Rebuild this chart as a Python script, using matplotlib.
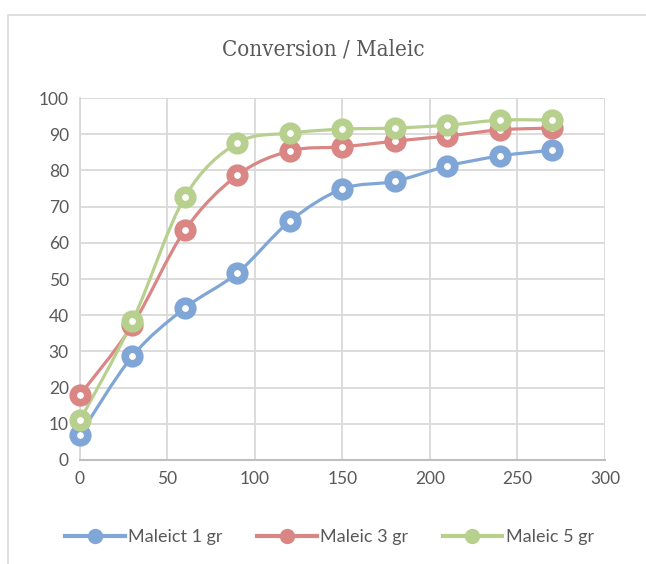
import numpy as np
import matplotlib.pyplot as plt
from matplotlib.path import Path
from matplotlib.patches import PathPatch, Rectangle
from matplotlib.lines import Line2D

# ==========================================
# DATA
# ==========================================
time_min = [0, 30, 60, 90, 120, 150, 180, 210, 240, 270]
maleic_1 = [7.0, 28.7, 42.0, 51.7, 66.0, 74.9, 77.0, 81.2, 84.0, 85.6]
maleic_3 = [18.0, 37.3, 63.5, 78.7, 85.4, 86.5, 88.1, 89.5, 91.2, 91.7]
maleic_5 = [11.0, 38.4, 72.7, 87.6, 90.3, 91.4, 91.7, 92.5, 93.9, 93.9]

labels = ['Maleict 1 gr', 'Maleic 3 gr', 'Maleic 5 gr']
colors = ['#7FA6D6', '#D98684', '#B7D08E']

# ==========================================
# HELPERS
# ==========================================
def smooth_path(x, y, t=1/6):
    """Excel-style smoothed line as cubic Bezier segments through the points."""
    pts = np.column_stack([x, y]).astype(float)
    n = len(pts)
    verts = [pts[0]]
    codes = [Path.MOVETO]
    for i in range(n - 1):
        p0 = pts[i - 1] if i > 0 else pts[i]
        p1 = pts[i]
        p2 = pts[i + 1]
        p3 = pts[i + 2] if i + 2 < n else pts[i + 1]
        c1 = p1 + (p2 - p0) * t
        c2 = p2 - (p3 - p1) * t
        verts += [c1, c2, p2]
        codes += [Path.CURVE4] * 3
    return Path(verts, codes)

# ==========================================
# PLOT
# ==========================================
fig = plt.figure(figsize=(6.46, 5.64), dpi=100)
ax = fig.add_axes([0.1238, 0.1844, 0.8127, 0.6418])

# chart frame
fig.patches.append(Rectangle((8 / 646, -0.01), 1.0, 1 - 15 / 564 + 0.01,
                             transform=fig.transFigure, fill=False,
                             edgecolor='#D9D9D9', linewidth=1.2))

series = [maleic_1, maleic_3, maleic_5]
for vals, col, lab in zip(series, colors, labels):
    ax.add_patch(PathPatch(smooth_path(time_min, vals), facecolor='none',
                           edgecolor=col, linewidth=2.3, zorder=3,
                           clip_on=False))
    ax.plot(time_min, vals, linestyle='none', marker='o', markersize=10.5,
            markerfacecolor='white', markeredgecolor=col, markeredgewidth=5.5,
            zorder=4, clip_on=False)

ax.set_xlim(0, 300)
ax.set_ylim(0, 100)
ax.set_xticks(np.arange(0, 301, 50))
ax.set_yticks(np.arange(0, 101, 10))
ax.grid(True, color='#D9D9D9', linewidth=1.3)
ax.set_axisbelow(True)
for s in ['top', 'right']:
    ax.spines[s].set_visible(False)
ax.spines['left'].set_color('#D9D9D9')
ax.spines['left'].set_linewidth(1.3)
ax.spines['bottom'].set_color('#BFBFBF')
ax.spines['bottom'].set_linewidth(1.5)
ax.tick_params(length=0, labelsize=12.5, labelcolor='#595959', pad=8)
for lbl in ax.get_xticklabels() + ax.get_yticklabels():
    lbl.set_family('Lato')

fig.text(0.5, 1 - 50 / 564, 'Conversion / Maleic', ha='center', va='center',
         fontsize=16, color='#595959', family='DejaVu Serif',
         fontstretch='condensed')

handles = [Line2D([0], [0], color=c, linewidth=3, marker='o', markersize=10,
                  markerfacecolor=c, markeredgecolor=c) for c in colors]
fig.legend(handles, labels, loc='center', bbox_to_anchor=(0.51, 1 - 537 / 564),
           ncol=3, frameon=False, handlelength=3.3,
           columnspacing=1.9, handletextpad=0.2,
           prop={'family': 'Lato', 'size': 13})
for t in fig.legends[0].get_texts():
    t.set_color('#595959')

plt.savefig('out.png', dpi=100)
